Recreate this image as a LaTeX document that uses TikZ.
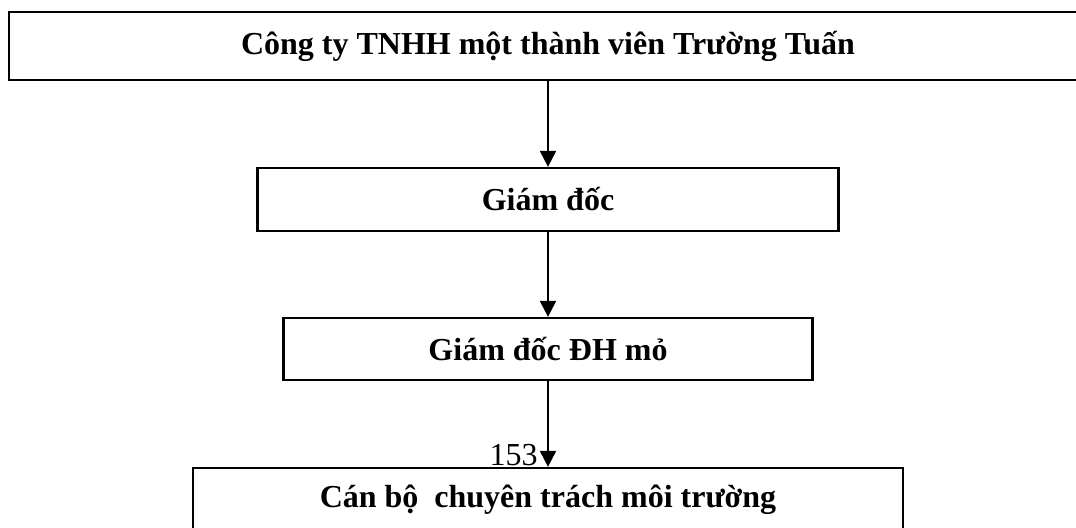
\documentclass[tikz,border=0pt]{standalone}
\usepackage{fontspec}
\setmainfont{Liberation Serif}
\usetikzlibrary{arrows.meta}
\tikzset{
	unitbox/.style={draw, line width=1.1pt, inner sep=0pt, font=\fontsize{16}{19}\selectfont\bfseries},
	down/.style={line width=1pt, -{Triangle[width=8pt,length=8pt]}}
}
\begin{document}
\begin{tikzpicture}[x=0.5pt,y=-0.5pt]
				\useasboundingbox (0,0) rectangle (1076,528);
				\node [unitbox, minimum width=539pt, minimum height=34pt] (congty) at (548,46) {Công ty TNHH một thành viên Trường Tuấn};
				\node [unitbox, minimum width=290.5pt, minimum height=31.5pt] (giamdoc) at (548,199.5) {Giám đốc};
				\node [unitbox, minimum width=264.5pt, minimum height=31pt] (dhmo) at (548,349) {Giám đốc ĐH mỏ};
				\node [unitbox, minimum width=355pt, minimum height=32pt] (canbo) at (548,500) {Cán bộ~ chuyên trách môi trường};
				\draw[down] (congty) -- (giamdoc);
				\draw[down] (giamdoc) -- (dhmo);
				\draw[down] (dhmo) -- (canbo);
				\node [anchor=base east, inner sep=0pt, font=\fontsize{16}{19}\selectfont] (so) at (538,466) {153};
				\end{tikzpicture}
\end{document}
